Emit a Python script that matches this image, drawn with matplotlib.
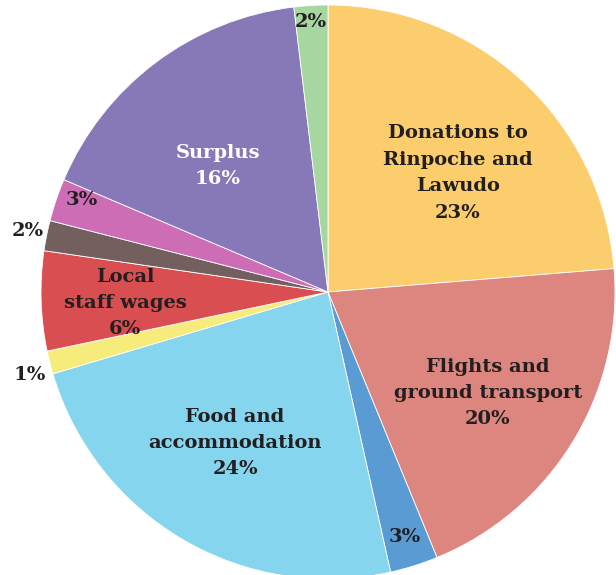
import matplotlib.pyplot as plt
import numpy as np

# shares of the budget, clockwise from the top (measured from the wedge angles)
names = ["Donations to\nRinpoche and\nLawudo", "Flights and\nground transport", "", "Food and\naccommodation",
         "", "Local\nstaff wages", "", "", "Surplus", ""]
shares = [23.7, 20.1, 2.7, 23.9, 1.3, 5.6, 1.7, 2.4, 16.7, 1.9]
printed = ["23%", "20%", "3%", "24%", "1%", "6%", "2%", "3%", "16%", "2%"]
colors = ["#FBCD6C", "#DC867F", "#5B9BD3", "#86D5EE", "#F6EC7C", "#D94E50",
          "#735F5D", "#CC6DB6", "#8779B8", "#A6D7A1"]
text_colors = ["#231F20"] * 10
text_colors[8] = "white"
# label placement: distance from centre (fraction of radius) and angle in degrees
label_r = [0.614, 0.659, 0.895, 0.618, 1.078, 0.708, 1.067, 0.915, 0.583, 0.943]
label_ang = [42.5, -32.3, -72.6, -121.6, 195.6, 183.1, 168.5, 159.5, 131.1, 93.6]

fig = plt.figure(figsize=(6.16, 5.75), dpi=100)
ax = fig.add_axes([0, 0, 1, 1])

wedges, _ = ax.pie(shares, colors=colors, startangle=90, counterclock=False, radius=1.0,
                   wedgeprops=dict(edgecolor="white", linewidth=0.6))

# pie fills almost the whole picture, slightly off to the left
R = 287.0
cx, cy = 328, 292
ax.set_aspect("auto")
ax.set_xlim(-cx / R, (616 - cx) / R)
ax.set_ylim(-(575 - cy) / R, cy / R)
ax.axis("off")

for lab, p, r, a, tc in zip(names, printed, label_r, label_ang, text_colors):
    t = np.deg2rad(a)
    txt = (lab + "\n" if lab else "") + p
    ax.text(r * np.cos(t), r * np.sin(t), txt, ha="center", va="center",
            fontsize=14, fontweight="bold", family="DejaVu Serif", color=tc,
            linespacing=1.6)

fig.savefig("out.png", dpi=100)
